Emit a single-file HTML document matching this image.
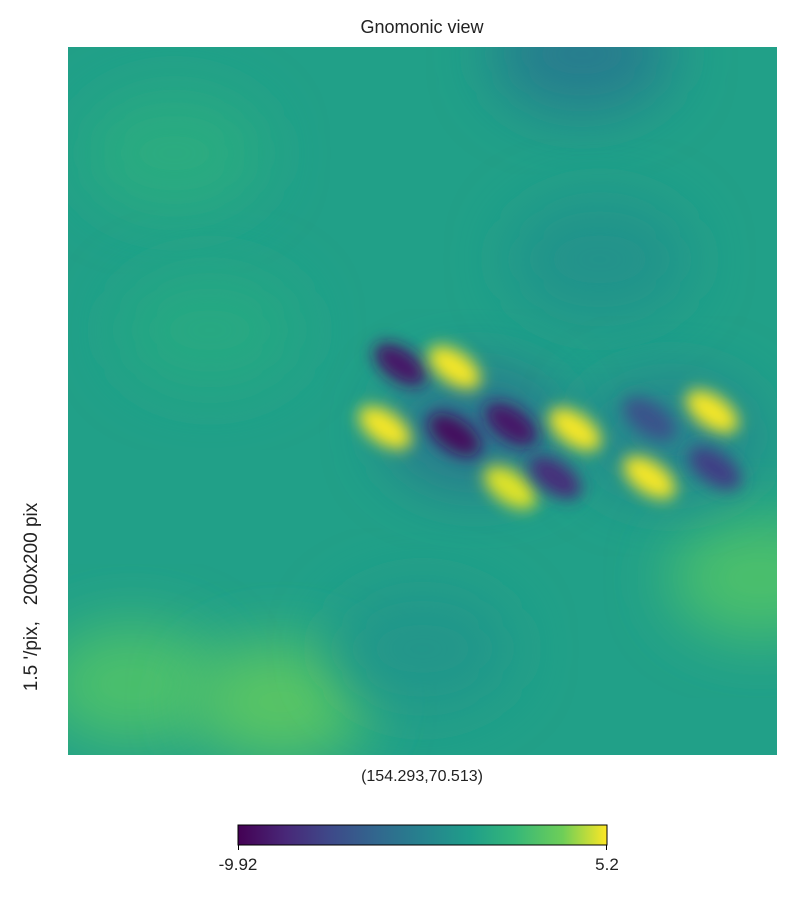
<!DOCTYPE html>
<html><head><meta charset="utf-8"><style>
body{margin:0;background:#fff;width:807px;height:893px;overflow:hidden;font-family:"Liberation Sans","DejaVu Sans",sans-serif}
</style></head><body>
<svg id="chart" width="807" height="893" xmlns="http://www.w3.org/2000/svg">
<defs>
<filter id="blur" x="-50%" y="-50%" width="200%" height="200%"><feGaussianBlur stdDeviation="8"/></filter>
<filter id="blurBig" x="-50%" y="-50%" width="200%" height="200%"><feGaussianBlur stdDeviation="30"/></filter>
<clipPath id="clip"><rect x="68" y="47" width="709" height="708"/></clipPath>
<linearGradient id="viridis" x1="0" x2="1" y1="0" y2="0">
<stop offset="0" stop-color="#440154"/><stop offset="0.13" stop-color="#482878"/><stop offset="0.25" stop-color="#3e4989"/><stop offset="0.38" stop-color="#31688e"/><stop offset="0.5" stop-color="#26828e"/><stop offset="0.63" stop-color="#1f9e89"/><stop offset="0.75" stop-color="#35b779"/><stop offset="0.88" stop-color="#6ece58"/><stop offset="1" stop-color="#fde725"/>
</linearGradient>
</defs>
<text x="422" y="33" text-anchor="middle" font-size="18" fill="#222">Gnomonic view</text>
<g id="map" clip-path="url(#clip)"></g>
<text x="422" y="781" text-anchor="middle" font-size="16" fill="#222">(154.293,70.513)</text>
<text transform="translate(37,597) rotate(-90)" text-anchor="middle" font-size="19" fill="#222" xml:space="preserve">1.5 '/pix,   200x200 pix</text>
<rect x="238" y="825" width="369" height="20" fill="url(#viridis)" stroke="#000" stroke-width="1"/>
<line x1="238.5" y1="845" x2="238.5" y2="850" stroke="#000"/>
<line x1="606.5" y1="845" x2="606.5" y2="850" stroke="#000"/>
<text id="cbmin" x="238" y="870" text-anchor="middle" font-size="17" fill="#222"></text>
<text id="cbmax" x="607" y="870" text-anchor="middle" font-size="17" fill="#222"></text>
</svg>
<script>
const vmin = -9.92, vmax = 5.2;
const background = -1.4;
// compact features (map pixel coords 0-200)
const blobX = [93.7,109,89.4,109,125,143,124.7,137.4,164,181.7,164,182.5];
const blobY = [89.7,90.5,107.5,109.5,106.6,108,124.4,121.6,105,103,121.6,119];
const blobV = [-9,5,5,-9.5,-9,5,4.5,-8,-6,5,5,-7];
// broad diffuse patches
const patchX = [115,145,18,60,195,30,150,100,170,40];
const patchY = [108,2,180,185,150,30,60,170,110,80];
const patchV = [-4,-3.5,0.8,1.2,0.8,-0.6,-2.2,-2,-3,-0.8];

const X0=68, Y0=47, W=709, H=708, N=200;
const sx = v => X0 + v*W/N, sy = v => Y0 + v*H/N;
const vir = ["#440154","#482878","#3e4989","#31688e","#26828e","#1f9e89","#35b779","#6ece58","#b5de2b","#fde725"];
function color(v){
  let t=(v-vmin)/(vmax-vmin); t=Math.max(0,Math.min(1,t));
  const f=t*(vir.length-1), i=Math.min(vir.length-2,Math.floor(f)), r=f-i;
  const a=vir[i], b=vir[i+1];
  const c=k=>Math.round(parseInt(a.substr(k,2),16)*(1-r)+parseInt(b.substr(k,2),16)*r);
  return `rgb(${c(1)},${c(3)},${c(5)})`;
}
const ns="http://www.w3.org/2000/svg", g=document.getElementById('map');
const bg=document.createElementNS(ns,'rect');
bg.setAttribute('x',X0);bg.setAttribute('y',Y0);bg.setAttribute('width',W);bg.setAttribute('height',H);
bg.setAttribute('fill',color(background));


g.appendChild(bg);
patchX.forEach((x,i)=>{
  const e=document.createElementNS(ns,'ellipse');
  e.setAttribute('cx',sx(x));e.setAttribute('cy',sy(patchY[i]));
  e.setAttribute('rx',90);e.setAttribute('ry',60);
  e.setAttribute('fill',color(patchV[i]));e.setAttribute('filter','url(#blurBig)');
  
  
  g.appendChild(e);
});
blobX.forEach((x,i)=>{
  const e=document.createElementNS(ns,'ellipse');
  const cx=sx(x), cy=sy(blobY[i]);
  e.setAttribute('cx',cx);e.setAttribute('cy',cy);
  e.setAttribute('rx',30);e.setAttribute('ry',16);
  e.setAttribute('transform',`rotate(35 ${cx} ${cy})`);
  e.setAttribute('fill',color(blobV[i]));e.setAttribute('filter','url(#blur)');
  
  
  g.appendChild(e);
});
document.getElementById('cbmin').textContent=String(vmin);
document.getElementById('cbmax').textContent=String(vmax);
</script>
</body></html>
